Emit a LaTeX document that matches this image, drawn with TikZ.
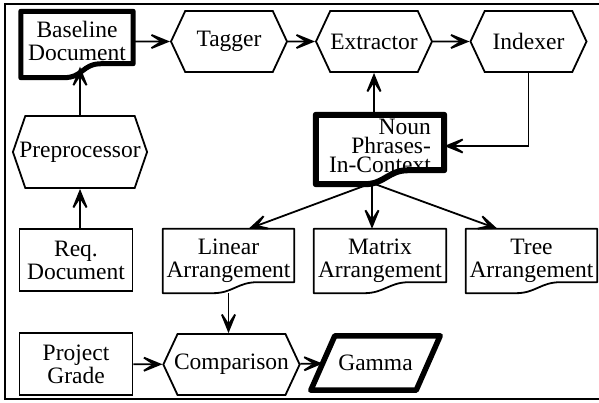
\documentclass[tikz,border=0pt]{standalone}
\usepackage{fontspec}
\setmainfont{Liberation Serif}
\usetikzlibrary{positioning,shapes.geometric,shapes.symbols,arrows.meta,calc}

% outline of a document shape round a node: name, line width, rise of the wave, drop below the node
\newcommand{\docoutline}[4]{%
  \draw[line width=#2, line join=round]
    ($(#1.south west)+(0pt,-#4)$) -- (#1.north west) -- (#1.north east)
    -- ($(#1.south east)+(0pt,#3-#4)$)
    -- ($(#1.south west)!0.72!(#1.south east)+(0pt,#3-#4)$)
    .. controls +(-20pt,0pt) and +(20pt,0pt) ..
    ($(#1.south west)!0.38!(#1.south east)+(0pt,-#4)$) -- cycle;}

\begin{document}
\begin{tikzpicture}[x=1pt, y=-1pt,
    every node/.style={font=\fontsize{23.5}{23}\selectfont, align=center, inner sep=0pt},
    proc/.style={draw, line width=1.8pt, shape=signal, signal to=east and west, signal pointer angle=130, minimum width=116pt, minimum height=61pt},
    box/.style={draw, line width=1.8pt, rectangle, minimum width=113pt, minimum height=62pt},
    doc/.style={rectangle, minimum width=131pt, minimum height=64pt},
    arrow/.style={-{Stealth[length=27pt, width=22pt, inset=17pt]}, line width=1.8pt}
]
\useasboundingbox (0,0) rectangle (599,402);

% Frame
\draw[line width=2pt] (5,4) rectangle (610,399);

% Top row
\node[doc, minimum width=112pt, minimum height=59pt] (baseline) at (77,41) {Baseline\\Document};
\node[proc] (tagger) at (229,41.5) {Tagger};
\node[proc] (extractor) at (374,41.5) {Extractor};
\node[proc] (indexer) at (528.5,41.5) {Indexer};

% Left column
\node[proc, signal pointer angle=142, inner xsep=-6pt, minimum height=72pt] (pre) at (80,152) {Preprocessor};
\node[box] (req) at (76,260) {Req.\\Document};
\node[box] (grade) at (76,364) {Project\\Grade};

% Phrases and arrangements
\node[doc, minimum width=128pt, minimum height=62pt, font=\fontsize{23.5}{19}\selectfont, align=right] (noun) at (380,146) {Noun\\Phrases-\\In-Context};
\node[doc] (linear) at (228.5,261) {Linear\\Arrangement};
\node[doc, minimum width=132pt] (matrix) at (380,261) {Matrix\\Arrangement};
\node[doc] (tree) at (531.5,261) {Tree\\Arrangement};

% Bottom row
\node[proc, inner xsep=-3.5pt] (comparison) at (231.5,364.5) {Comparison};
\node[rectangle, minimum width=105pt, minimum height=54pt] (gamma) at (375.5,363) {Gamma};

\coordinate (foot) at (372,183);

% Outlines
\docoutline{baseline}{5pt}{14pt}{7pt}
\docoutline{noun}{6pt}{14pt}{7pt}
\docoutline{linear}{1.8pt}{11pt}{0pt}
\docoutline{matrix}{1.8pt}{11pt}{0pt}
\docoutline{tree}{1.8pt}{11pt}{0pt}
\draw[line width=5.5pt, line join=round] ([xshift=12pt]gamma.north west) -- ([xshift=12pt]gamma.north east)
  -- ([xshift=-12pt]gamma.south east) -- ([xshift=-12pt]gamma.south west) -- cycle;

% Connections
\draw[arrow] (baseline.east |- tagger) -- (tagger);
\draw[arrow] (tagger) -- (extractor);
\draw[arrow] (extractor) -- (indexer);
\draw[arrow] (req.north -| pre) -- (pre);
\draw[arrow, shorten >=-4pt] (pre.north) -- (pre.north |- baseline.south);
\draw[arrow] (noun.north -| extractor) -- (extractor);
\draw[arrow] (indexer) |- (noun);
\draw[arrow] (foot) -- ([xshift=20pt]linear.north);
\draw[arrow] (foot) -- (foot |- matrix.north);
\draw[arrow] (foot) -- ([xshift=-34pt]tree.north);
\draw[arrow] (linear.south) -- (linear.south |- comparison.north);
\draw[arrow] (grade) -- (comparison);
\draw[arrow] (comparison) -- (gamma);

\end{tikzpicture}
\end{document}
